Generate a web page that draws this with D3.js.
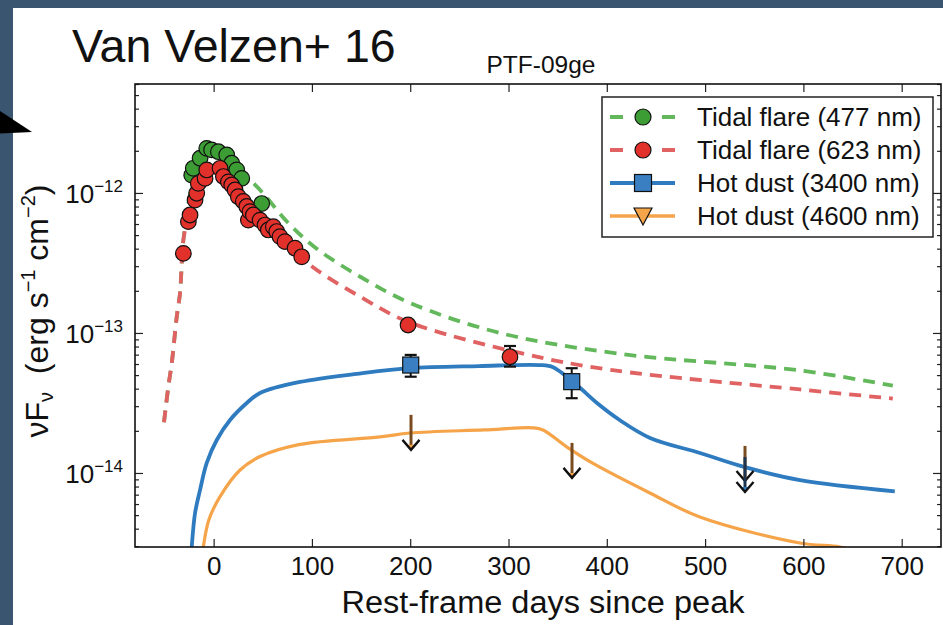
<!DOCTYPE html>
<html>
<head>
<meta charset="utf-8">
<script src="https://cdn.jsdelivr.net/npm/d3@7"></script>
<style>
  body { margin: 0; background: #3a5570; }
  svg { display: block; }
  text { font-family: "Liberation Sans", Arial, Helvetica, sans-serif; fill: #111; }
</style>
</head>
<body>
<svg id="chart" width="943" height="625"></svg>
<script>
// ---- Light-curve data: PTF-09ge ----
// Optical photometry (rest-frame days since peak, nuFnu in erg s^-1 cm^-2)
const g477Days = [-22.3, -20.7, -13.8, -7.0, -2.1, 4.8, 13.3, 18.4, 23.5, 28.6, 48.9];
const g477Flux = [1.34e-12, 1.50e-12, 1.77e-12, 2.08e-12, 2.03e-12, 1.97e-12, 1.87e-12, 1.63e-12, 1.46e-12, 1.27e-12, 8.4e-13];

const r623Days = [-30.8, -25.7, -24.0, -18.9, -17.2, -15.6, -8.7, -7.0, 6.5, 9.9, 15.0, 18.4, 21.8, 25.1,
                  30.2, 33.7, 35.3, 37.0, 40.4, 47.2, 52.3, 55.6, 60.7, 64.2, 67.5, 72.6, 82.8, 89.6, 197.8, 301.5];
const r623Flux = [3.7e-13, 6.24e-13, 6.96e-13, 8.9e-13, 9.95e-13, 1.17e-12, 1.27e-12, 1.46e-12, 1.50e-12, 1.31e-12,
                  1.20e-12, 1.14e-12, 1.05e-12, 9.4e-13, 8.7e-13, 8.0e-13, 6.4e-13, 7.35e-13, 6.96e-13, 6.4e-13,
                  5.9e-13, 5.44e-13, 5.74e-13, 5.3e-13, 4.88e-13, 4.49e-13, 4.03e-13, 3.5e-13, 1.14e-13, 6.76e-14];
const r623ErrDays = [301.5];
const r623ErrLow  = [5.75e-14];
const r623ErrHigh = [8.07e-14];

// WISE detections (3400 nm)
const d3400Days = [200.5, 364.3];
const d3400Flux = [5.9e-14, 4.49e-14];
const d3400Low  = [4.87e-14, 3.42e-14];
const d3400High = [6.97e-14, 5.6e-14];

// Upper limits
const ul4600Days = [200.8, 364.6, 540.6];
const ul4600Flux = [2.6e-14, 1.64e-14, 1.56e-14];
const ul3400Days = [540.6];
const ul3400Flux = [1.3e-14];

// Model curves
const m477Days = [-50.5, -46.1, -42.6, -37.5, -34.2, -30.8, -25, -18, -10, 0, 12, 25, 48.9, 75, 104.9, 150, 199.8, 291.4, 413.4, 596.5, 691];
const m477Flux = [2.3e-14, 4.13e-14, 6.08e-14, 1.31e-13, 1.92e-13, 4.6e-13, 9.0e-13, 1.5e-12, 1.95e-12, 2.1e-12, 1.9e-12,
                  1.5e-12, 1.02e-12, 6.2e-13, 4.0e-13, 2.5e-13, 1.64e-13, 1.0e-13, 7.1e-14, 5.4e-14, 4.2e-14];
const m623Days = [-50.5, -46.1, -42.6, -37.5, -34.2, -30.8, -25, -18, -10, 0, 12, 25, 48, 75, 101.1, 150, 198, 311.7, 403.7, 596.5, 691];
const m623Flux = [2.3e-14, 4.13e-14, 6.08e-14, 1.31e-13, 1.92e-13, 4.6e-13, 7.2e-13, 1.0e-12, 1.3e-12, 1.45e-12, 1.3e-12,
                  1.0e-12, 6.6e-13, 4.3e-13, 2.95e-13, 1.8e-13, 1.2e-13, 7.2e-14, 5.45e-14, 3.95e-14, 3.4e-14];
const m3400Days = [-23.5, -22.3, -18.9, -13.8, -7.0, 3.2, 16.7, 33.7, 47.2, 87.9, 150, 199.8, 270, 332, 345.3, 359.5,
                   372.7, 390, 413.4, 444, 494.7, 540.6, 596.5, 693];
const m3400Flux = [2.2e-15, 2.96e-15, 5.18e-15, 7.57e-15, 1.18e-14, 1.72e-14, 2.39e-14, 3.16e-14, 3.73e-14, 4.47e-14,
                   5.15e-14, 5.6e-14, 5.8e-14, 5.9e-14, 5.7e-14, 4.85e-14, 4.06e-14, 3.16e-14, 2.38e-14, 1.78e-14,
                   1.39e-14, 1.1e-14, 8.9e-15, 7.4e-15];
const m4600Days = [-11.5, -10.5, -5, 6.5, 26.9, 47.2, 87.9, 169.3, 199.8, 275, 324.9, 335.1, 359.5, 386, 443.8, 494.7, 596.5, 637.2, 660];
const m4600Flux = [2.6e-15, 2.96e-15, 4.6e-15, 6.78e-15, 1.05e-14, 1.31e-14, 1.6e-14, 1.81e-14, 1.93e-14, 2.03e-14,
                   2.1e-14, 2.03e-14, 1.53e-14, 1.17e-14, 7.2e-15, 4.85e-15, 3.16e-15, 2.96e-15, 2.7e-15];

// Axis ticks
const xTickValues = [0, 100, 200, 300, 400, 500, 600, 700];
const yMajorValues = [1e-14, 1e-13, 1e-12];
const yMajorExponents = ["\u221214", "\u221213", "\u221212"];

// Legend
const legendLabels = ["Tidal flare (477 nm)", "Tidal flare (623 nm)", "Hot dust (3400 nm)", "Hot dust (4600 nm)"];

// ---- Styling ----
const C = {
  greenFill: "#3c9d34", redFill: "#e2302b",
  greenLine: "#62b85a", redLine: "#e06262",
  blue: "#2f7bbf", blueFill: "#3a7fc2",
  orange: "#f5a449", brown: "#7a4b1f"
};

const svg = d3.select("#chart");
const W = 943, H = 625;

// slide backdrop
svg.append("rect").attr("width", W).attr("height", H).attr("fill", "#3a5570");
svg.append("rect").attr("x", 13).attr("y", 8).attr("width", W - 13).attr("height", H - 8).attr("fill", "#fff");
svg.append("path").attr("d", "M0,111 L32,132 L0,133.5 Z").attr("fill", "#000");

svg.append("text").attr("x", 72).attr("y", 62).attr("font-size", 46.5).text("Van Velzen+ 16");

const P = { left: 135, right: 941, top: 84, bottom: 547 };
const x = d3.scaleLinear().domain([-80, 740]).range([P.left, P.right]);
const y = d3.scaleLog().domain([2.96e-15, 6.0e-12]).range([P.bottom, P.top]);

svg.append("text").attr("x", 541).attr("y", 73).attr("text-anchor", "middle")
  .attr("font-size", 24.5).text("PTF-09ge");

// clip
svg.append("defs").append("clipPath").attr("id", "plotClip")
  .append("rect").attr("x", P.left).attr("y", P.top)
  .attr("width", P.right - P.left).attr("height", P.bottom - P.top);

const plotG = svg.append("g").attr("clip-path", "url(#plotClip)");

const zip = (a, b) => a.map((v, i) => [v, b[i]]);
const line = d3.line().x(d => x(d[0])).y(d => y(d[1])).curve(d3.curveCatmullRom.alpha(0.5));

// model curves
plotG.append("path").datum(zip(m477Days, m477Flux)).attr("d", line)
  .attr("fill", "none").attr("stroke", C.greenLine).attr("stroke-width", 3.8).attr("stroke-dasharray", "12,8");
plotG.append("path").datum(zip(m623Days, m623Flux)).attr("d", line)
  .attr("fill", "none").attr("stroke", C.redLine).attr("stroke-width", 3.8).attr("stroke-dasharray", "12,8");
plotG.append("path").datum(zip(m4600Days, m4600Flux)).attr("d", line)
  .attr("fill", "none").attr("stroke", C.orange).attr("stroke-width", 3.2);
plotG.append("path").datum(zip(m3400Days, m3400Flux)).attr("d", line)
  .attr("fill", "none").attr("stroke", C.blue).attr("stroke-width", 3.8);

// optical points
plotG.append("g").selectAll("circle").data(zip(g477Days, g477Flux)).join("circle")
  .attr("cx", d => x(d[0])).attr("cy", d => y(d[1])).attr("r", 7.8)
  .attr("fill", C.greenFill).attr("stroke", "#111").attr("stroke-width", 1.2);

// error bars helper
function errBar(g, dx, lo, hi) {
  const xx = x(dx);
  g.append("line").attr("x1", xx).attr("x2", xx).attr("y1", y(lo)).attr("y2", y(hi))
    .attr("stroke", "#111").attr("stroke-width", 2);
  [lo, hi].forEach(v => g.append("line").attr("x1", xx - 6).attr("x2", xx + 6)
    .attr("y1", y(v)).attr("y2", y(v)).attr("stroke", "#111").attr("stroke-width", 2.2));
}
const errG = plotG.append("g");
r623ErrDays.forEach((d, i) => errBar(errG, d, r623ErrLow[i], r623ErrHigh[i]));

plotG.append("g").selectAll("circle").data(zip(r623Days, r623Flux)).join("circle")
  .attr("cx", d => x(d[0])).attr("cy", d => y(d[1])).attr("r", 7.8)
  .attr("fill", C.redFill).attr("stroke", "#111").attr("stroke-width", 1.2);

// 3400 nm detections
d3400Days.forEach((d, i) => errBar(errG, d, d3400Low[i], d3400High[i]));
plotG.append("g").selectAll("rect").data(zip(d3400Days, d3400Flux)).join("rect")
  .attr("x", d => x(d[0]) - 8).attr("y", d => y(d[1]) - 8).attr("width", 16).attr("height", 16)
  .attr("fill", C.blueFill).attr("stroke", "#111").attr("stroke-width", 1.2);

// upper limits: stem from the limit down, caret at the tip
const ARROW = 35;
function upperLimit(g, dx, v, stem, tipFill) {
  const xx = x(dx), y0 = y(v), y1 = y0 + ARROW;
  g.append("line").attr("x1", xx).attr("x2", xx).attr("y1", y0).attr("y2", y1 - 2)
    .attr("stroke", stem).attr("stroke-width", 3);
  g.append("path").attr("d", `M${xx - 4},${y1 - 5} L${xx + 4},${y1 - 5} L${xx},${y1} Z`).attr("fill", tipFill);
  g.append("path").attr("d", `M${xx - 8.5},${y1 - 10} L${xx},${y1} L${xx + 8.5},${y1 - 10}`)
    .attr("fill", "none").attr("stroke", "#111").attr("stroke-width", 2.4);
}
const ulG = plotG.append("g");
ul4600Days.forEach((d, i) => upperLimit(ulG, d, ul4600Flux[i], C.brown, C.orange));
ul3400Days.forEach((d, i) => upperLimit(ulG, d, ul3400Flux[i], "#1d3550", C.blue));

// ---- axes ----
const axG = svg.append("g");
const styleAxis = g => {
  g.select(".domain").remove();
  g.selectAll(".tick line").attr("stroke", "#222").attr("stroke-width", 1.2);
};
// x bottom with labels
axG.append("g").attr("transform", `translate(0,${P.bottom})`)
  .call(d3.axisBottom(x).tickValues(xTickValues).tickSize(-8).tickPadding(10).tickFormat(d3.format("d")))
  .call(styleAxis)
  .call(g => g.selectAll("text").attr("font-size", 26).attr("font-family", "Liberation Sans, Arial, sans-serif").attr("fill", "#111"));
// x top
axG.append("g").attr("transform", `translate(0,${P.top})`)
  .call(d3.axisTop(x).tickValues(xTickValues).tickSize(-8).tickFormat(""))
  .call(styleAxis);

// y minor ticks
const yMinor = [];
[-15, -14, -13, -12].forEach(e => { for (let k = 2; k <= 9; k++) { const v = k * Math.pow(10, e); if (v >= 2.96e-15 && v <= 6e-12) yMinor.push(v); } });
[["left", d3.axisLeft, P.left], ["right", d3.axisRight, P.right]].forEach(([side, ax, pos]) => {
  axG.append("g").attr("transform", `translate(${pos},0)`)
    .call(ax(y).tickValues(yMajorValues).tickSize(-8).tickFormat(""))
    .call(styleAxis);
  axG.append("g").attr("transform", `translate(${pos},0)`)
    .call(ax(y).tickValues(yMinor).tickSize(-4).tickFormat(""))
    .call(styleAxis);
});

// y tick labels as 10^n
yMajorValues.forEach((v, i) => {
  const t = svg.append("text").attr("x", P.left - 12).attr("y", y(v) + 10)
    .attr("text-anchor", "end").attr("font-size", 26);
  t.append("tspan").text("10");
  t.append("tspan").attr("font-size", 17).attr("dy", -11).text(yMajorExponents[i]);
});

// frame
svg.append("rect").attr("x", P.left).attr("y", P.top).attr("width", P.right - P.left).attr("height", P.bottom - P.top)
  .attr("fill", "none").attr("stroke", "#111").attr("stroke-width", 1.6);

// axis titles
svg.append("text").attr("x", 543).attr("y", 613).attr("text-anchor", "middle")
  .attr("font-size", 31).attr("textLength", 403).attr("lengthAdjust", "spacingAndGlyphs")
  .text("Rest-frame days since peak");

const yt = svg.append("text").attr("transform", "translate(48,311) rotate(-90)")
  .attr("text-anchor", "middle").attr("font-size", 32);
yt.append("tspan").text("\u03bdF");
yt.append("tspan").attr("font-size", 20).attr("dy", 5).text("\u03bd");
yt.append("tspan").attr("dy", -5).text("\u00a0\u00a0(erg s");
yt.append("tspan").attr("font-size", 20).attr("dy", -13).text("\u22121");
yt.append("tspan").attr("dy", 13).text("\u00a0cm");
yt.append("tspan").attr("font-size", 20).attr("dy", -13).text("\u22122");
yt.append("tspan").attr("dy", 13).text(")");

// ---- legend ----
const L = svg.append("g");
L.append("rect").attr("x", 602).attr("y", 97).attr("width", 331).attr("height", 140)
  .attr("fill", "#fff").attr("stroke", "#222").attr("stroke-width", 1.5);
const rowY = [117, 150, 183, 216];
const lx0 = 610, lx1 = 675, lxm = 643;
// flare rows: dashed sample with circle
[[C.greenLine, C.greenFill], [C.redLine, C.redFill]].forEach(([ln, fill], i) => {
  L.append("line").attr("x1", lx0).attr("x2", lx1).attr("y1", rowY[i]).attr("y2", rowY[i])
    .attr("stroke", ln).attr("stroke-width", 3.8).attr("stroke-dasharray", "13,39");
  L.append("circle").attr("cx", lxm).attr("cy", rowY[i]).attr("r", 8)
    .attr("fill", fill).attr("stroke", "#111").attr("stroke-width", 1.2);
});
L.append("line").attr("x1", lx0).attr("x2", lx1).attr("y1", rowY[2]).attr("y2", rowY[2])
  .attr("stroke", C.blue).attr("stroke-width", 3.8);
L.append("rect").attr("x", lxm - 8.5).attr("y", rowY[2] - 8.5).attr("width", 17).attr("height", 17)
  .attr("fill", C.blueFill).attr("stroke", "#111").attr("stroke-width", 1.2);
L.append("line").attr("x1", lx0).attr("x2", lx1).attr("y1", rowY[3]).attr("y2", rowY[3])
  .attr("stroke", C.orange).attr("stroke-width", 3.6);
L.append("path").attr("d", `M${lxm - 9},${rowY[3] - 8} L${lxm + 9},${rowY[3] - 8} L${lxm},${rowY[3] + 9} Z`)
  .attr("fill", C.orange).attr("stroke", "#111").attr("stroke-width", 1.2);
legendLabels.forEach((s, i) => {
  L.append("text").attr("x", 697).attr("y", rowY[i] + 9).attr("font-size", 26).text(s);
});
</script>
</body>
</html>
